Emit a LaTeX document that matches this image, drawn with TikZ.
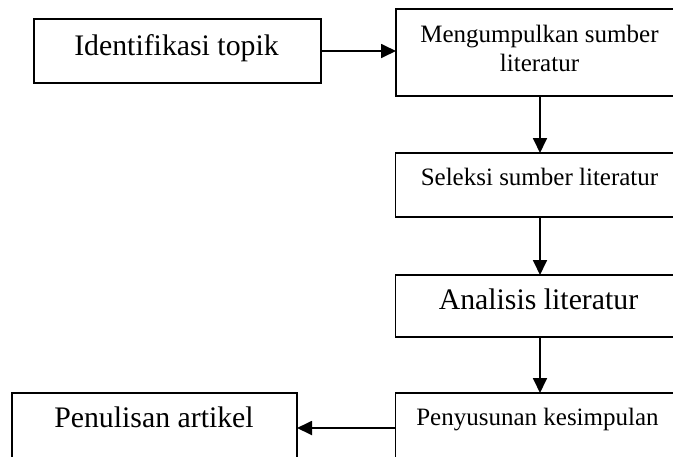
\documentclass[tikz,border=0pt]{standalone}
\usepackage{fontspec}
\setmainfont{Liberation Serif}
\usetikzlibrary{arrows.meta}
\begin{document}
\begin{tikzpicture}[x=1pt,y=-1pt,
  box/.style={draw=black,line width=1.6pt,inner sep=0pt,outer sep=0pt},
  big/.style={font=\fontsize{29.8}{34}\selectfont,inner sep=0pt,anchor=base},
  small/.style={font=\fontsize{25}{28}\selectfont,inner sep=0pt,anchor=base},
  conn/.style={line width=1.8pt,-{Triangle[length=15pt,width=14pt]}}]
\useasboundingbox (0,0) rectangle (673,456);
\clip (0,0) rectangle (673,456);
\fill[white] (0,0) rectangle (673,456);
% boxes
\node[box,minimum width=287pt,minimum height=64pt] (b1) at (177.5,51) {};
\node[box,minimum width=288pt,minimum height=87pt] (b2) at (540,52.5) {};
\node[box,minimum width=289pt,minimum height=64pt] (b3) at (540,185) {};
\node[box,minimum width=289pt,minimum height=62pt] (b4) at (540,306) {};
\node[box,minimum width=289pt,minimum height=66pt] (b5) at (540,426) {};
\node[box,minimum width=285pt,minimum height=66pt] (b6) at (154.5,426) {};
% texts
\node[big] (t1) at (176.5,55) {Identifikasi topik};
\node[small] (t2a) at (539.5,42) {Mengumpulkan sumber};
\node[small] (t2b) at (539.5,71) {literatur};
\node[small] (t3) at (539.5,185) {Seleksi sumber literatur};
\node[big] (t4) at (538.5,309) {Analisis literatur};
\node[small] (t5) at (537.5,425) {Penyusunan kesimpulan};
\node[big] (t6) at (154,427) {Penulisan artikel};
% connectors
\draw[conn] (b1.east) -- (b1.east -| b2.west);
\draw[conn] (b2.south) -- (b2.south |- b3.north);
\draw[conn] (b3.south) -- (b3.south |- b4.north);
\draw[conn] (b4.south) -- (b4.south |- b5.north);
\draw[conn] ([yshift=-2pt]b5.west) -- ([yshift=-2pt]b5.west -| b6.east);
\end{tikzpicture}
\end{document}
